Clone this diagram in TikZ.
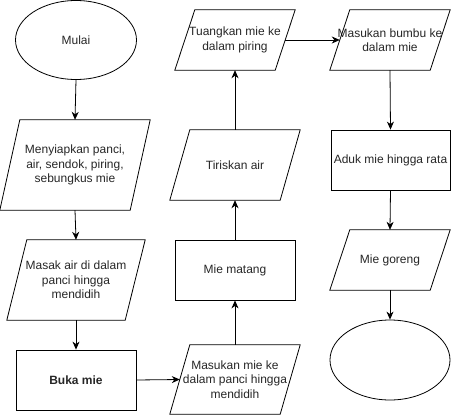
\documentclass[tikz,border=0pt]{standalone}
\usepackage{fontspec}
\setmainfont{Liberation Sans}
\usetikzlibrary{shapes.geometric,arrows.meta}
\newcommand\drawpara[1]{\draw[line width=0.8pt] ([xshift=20pt]#1.north west) -- (#1.north east) -- ([xshift=-20pt]#1.south east) -- (#1.south west) -- cycle;}
\begin{document}
\begin{tikzpicture}[x=1pt,y=-1pt,
  every node/.style={font=\fontsize{12}{14.5}\selectfont, align=center, inner sep=0pt, text=black!85},
  oval/.style={ellipse, draw, line width=0.8pt},
  box/.style={rectangle, draw, line width=0.8pt},
  parabox/.style={rectangle},
  conn/.style={line width=0.8pt, -{Stealth[length=8pt,width=7pt,inset=2.5pt]}},
  plain/.style={line width=0.8pt}]
\useasboundingbox (0,0) rectangle (451,416);
\node[oval, minimum width=121pt, minimum height=79pt] (start) at (76,40) {Mulai};
\node[parabox, minimum width=150pt, minimum height=90pt] (p1) at (75,165) {Menyiapkan panci,\\air, sendok, piring,\\sebungkus mie};
\node[parabox, minimum width=138pt, minimum height=80pt] (p2) at (76,280) {Masak air di dalam\\panci hingga\\mendidih};
\node[box, minimum width=120pt, minimum height=60pt] (buka) at (76,380) {\textbf{Buka mie}};
\node[parabox, minimum width=130pt, minimum height=69pt] (p4) at (235,379.5) {Masukan mie ke\\dalam panci hingga\\mendidih};
\node[box, minimum width=120pt, minimum height=60pt] (matang) at (235,270) {Mie matang};
\node[parabox, minimum width=130pt, minimum height=70pt] (tiris) at (235,165) {Tiriskan air};
\node[parabox, minimum width=120pt, minimum height=60pt] (tuang) at (235,40) {Tuangkan mie ke\\dalam piring};
\node[parabox, minimum width=120pt, minimum height=60pt] (bumbu) at (390,40) {Masukan bumbu ke\\dalam mie};
\node[box, minimum width=119pt, minimum height=60pt] (aduk) at (390.5,160) {Aduk mie hingga rata};
\node[parabox, minimum width=120pt, minimum height=60pt] (goreng) at (390,260) {Mie goreng};
\node[oval, minimum width=120pt, minimum height=80pt] (end) at (390,360) {};
\drawpara{p1}
\drawpara{p2}
\drawpara{p4}
\drawpara{tiris}
\drawpara{tuang}
\drawpara{bumbu}
\drawpara{goreng}
\coordinate (p4in) at ([xshift=10pt]p4.west);
\coordinate (tuangout) at ([xshift=-10pt]tuang.east);
\coordinate (bumbuin) at ([xshift=10pt]bumbu.west);
\draw[conn] (start.south) -- (p1.north);
\draw[conn] (p1.south) -- (p2.north);
\draw[conn] (p2.south) -- (buka.north);
\draw[conn] (buka.east) -- (p4in);
\draw[conn] (p4.north) -- (matang.south);
\draw[conn] (matang.north) -- (tiris.south);
\draw[conn] (tiris.north) -- (tuang.south);
\draw[conn] (tuangout) -- (bumbuin);
\draw[conn] (bumbu.south) -- (aduk.north);
\draw[conn] (aduk.south) -- (goreng.north);
\draw[conn] (goreng.south) -- (end.north);
\end{tikzpicture}
\end{document}
